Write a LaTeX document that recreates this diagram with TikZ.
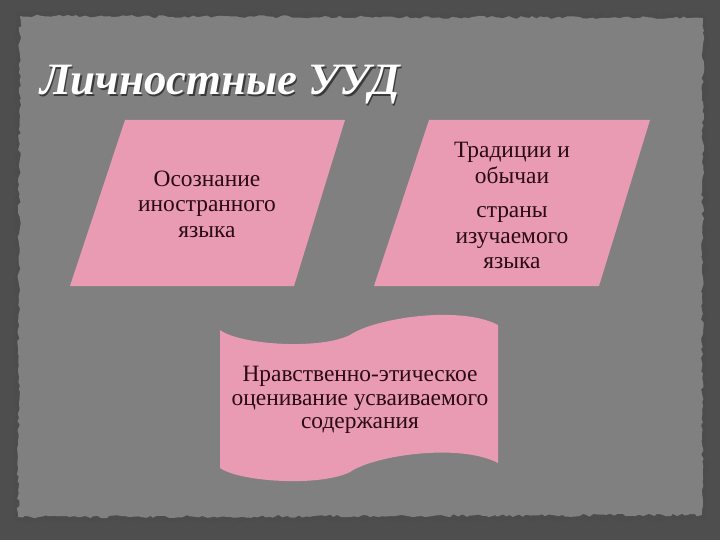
\documentclass[tikz,border=0pt]{standalone}
\usepackage{fontspec}
\setmainfont{Liberation Serif}
\usetikzlibrary{decorations.pathmorphing}
\definecolor{outerbg}{HTML}{4E4E4E}
\definecolor{panelgray}{HTML}{808080}
\definecolor{pinkfill}{HTML}{E89BB2}
\definecolor{textdark}{HTML}{2A0A14}
\definecolor{titleshadow}{HTML}{3A3A3A}
\begin{document}
\begin{tikzpicture}[x=1bp,y=-1bp,
  boxtext/.style={align=center, text=textdark, font=\fontsize{23.5}{25.5}\selectfont, inner sep=0pt},
  tighttext/.style={boxtext, font=\fontsize{23.5}{23.5}\selectfont},
  pinkshape/.style={fill=pinkfill, draw=none},
  titletext/.style={anchor=base west, inner sep=0pt, font=\fontsize{45}{50}\selectfont\bfseries\itshape}]
\pgfmathsetseed{7}
\fill[outerbg] (0,0) rectangle (720,540);
\useasboundingbox (0,0) rectangle (720,540);
% panel shadow rim
\fill[black!70, opacity=0.5, decorate, decoration={random steps, segment length=4bp, amplitude=2bp}]
  (16,12) -- (707,14) -- (706,520) -- (14,522) -- cycle;
% panel
\fill[panelgray, decorate, decoration={random steps, segment length=4bp, amplitude=1.5bp}]
  (20,16) -- (703,18) -- (702,515) -- (18,517) -- cycle;
% title
\node[titletext, text=titleshadow] (titleshadow) at (41.5,96.5) {Личностные УУД};
\node[titletext, text=white] (title) at (40,95) {Личностные УУД};
% left parallelogram
\fill[pinkshape] (125,120) -- (345,120) -- (294,286) -- (70,286) -- cycle;
\node[boxtext] (left) at (207,204) {Осознание\\иностранного\\языка};
% right parallelogram
\fill[pinkshape] (429,120) -- (650,120) -- (599,286) -- (374,286) -- cycle;
\node[boxtext] (rightA) at (512,163) {Традиции и\\обычаи};
\node[boxtext] (rightB) at (512,238) {страны\\изучаемого\\языка};
% tape shape
\fill[pinkshape] (220,330) .. controls (240,345) and (320,350) .. (350,335)
  .. controls (375,318) and (460,305) .. (498,325)
  -- (498,463)
  .. controls (460,443) and (375,455) .. (350,472)
  .. controls (320,487) and (240,482) .. (220,468) -- cycle;
\node[tighttext] (bottom) at (360,400) {Нравственно-этическое\\оценивание усваиваемого\\содержания};
\end{tikzpicture}
\end{document}
